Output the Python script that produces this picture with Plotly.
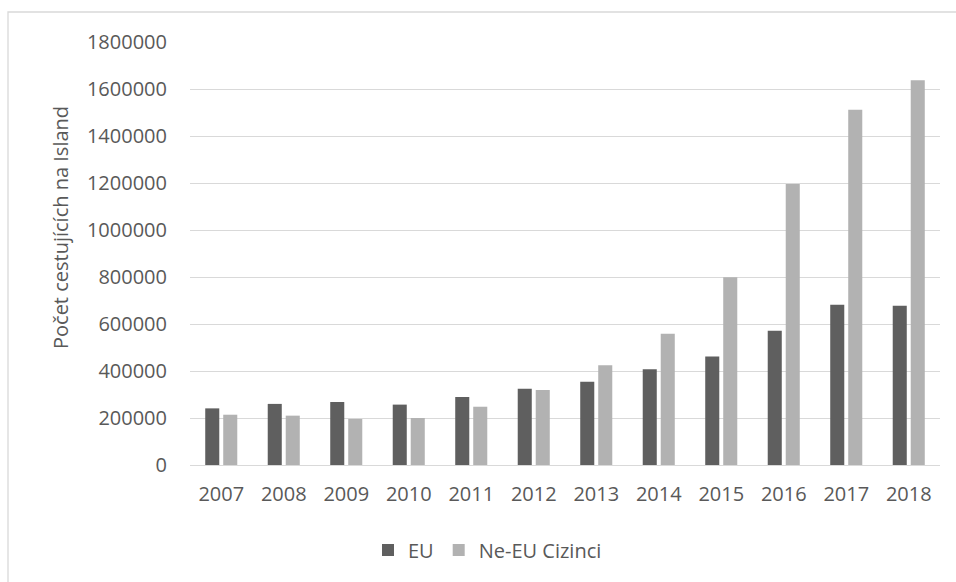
import plotly.graph_objects as go

years = ["2007", "2008", "2009", "2010", "2011", "2012", "2013", "2014", "2015", "2016", "2017", "2018"]
eu = [241000, 260000, 268000, 257000, 289000, 325000, 354000, 407000, 462000, 571000, 682000, 678000]
non_eu = [214000, 210000, 196000, 200000, 248000, 319000, 424000, 558000, 799000, 1196000, 1512000, 1637000]
y_ticks = [0, 200000, 400000, 600000, 800000, 1000000, 1200000, 1400000, 1600000, 1800000]

W, H = 956, 582
L, R, T, B = 190, 16, 42, 117
pw, ph = W - L - R, H - T - B

def px(x):
    return (x - L) / pw

def py(y):
    return (H - B - y) / ph

font = "Open Sans"
txt = "#595959"

fig = go.Figure()
fig.add_trace(go.Bar(x=years, y=eu, name="EU", marker=dict(color="#5f5f5f", line=dict(width=0))))
fig.add_trace(go.Bar(x=years, y=non_eu, name="Ne-EU Cizinci", marker=dict(color="#b2b2b2", line=dict(width=0))))

fig.update_layout(
    width=W, height=H,
    margin=dict(l=L, r=R, t=T, b=B),
    paper_bgcolor="white", plot_bgcolor="white",
    barmode="group", bargap=0.424, bargroupgap=0.22,
    font=dict(family=font, size=20, color=txt),
    showlegend=True,
    legend=dict(orientation="h", x=px(368), xanchor="left", y=py(550), yanchor="middle",
                font=dict(family=font, size=20, color=txt), bgcolor="rgba(0,0,0,0)",
                itemwidth=30, traceorder="normal"),
    xaxis=dict(showgrid=False, showline=False, ticks="", tickfont=dict(size=20, color=txt),
               ticklabelstandoff=15),
    yaxis=dict(range=[0, 1800000], tickvals=y_ticks, ticktext=[str(v) for v in y_ticks],
               showgrid=True, gridcolor="#d9d9d9", gridwidth=1.3, zeroline=True,
               zerolinecolor="#d9d9d9", zerolinewidth=1.3, showline=False, ticks="",
               tickfont=dict(size=20, color=txt), ticklabelstandoff=22),
    shapes=[dict(type="rect", xref="paper", yref="paper",
                 x0=px(8), x1=px(962), y0=py(590), y1=py(12),
                 line=dict(color="#d9d9d9", width=1.3), fillcolor="rgba(0,0,0,0)", layer="below")],
    annotations=[dict(text="Počet cestujících na Island", xref="paper", yref="paper",
                      x=px(60), y=py(228), textangle=-90, showarrow=False,
                      xanchor="center", yanchor="middle",
                      font=dict(family=font, size=20, color=txt))],
)

fig.write_html("out.html")
